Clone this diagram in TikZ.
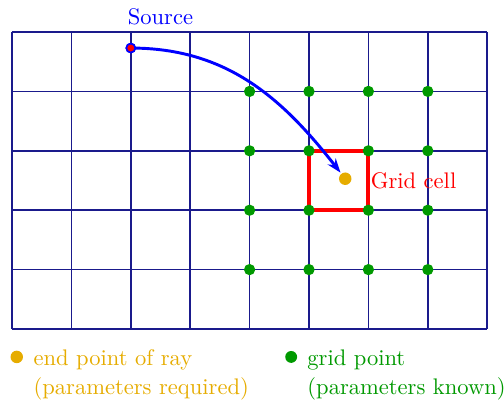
\documentclass[tikz,border=0pt]{standalone}
\usepackage{tikz}
\usetikzlibrary{arrows.meta,positioning}
\definecolor{GridNavy}{HTML}{1A1A8C}
\definecolor{PtGreen}{HTML}{009900}
\definecolor{PtGold}{HTML}{E6AC00}
\tikzset{
  txt/.style={font=\fontsize{10.8}{14}\selectfont},
  gridline/.style={draw=GridNavy,line width=0.7pt},
  cellbox/.style={draw=red,line width=2pt,minimum size=1cm,inner sep=0pt,outer sep=0pt},
  gridpt/.style={circle,fill=PtGreen,inner sep=0pt,minimum size=0.19cm},
  endpt/.style={circle,fill=PtGold,inner sep=0pt,minimum size=0.21cm},
  srcpt/.style={circle,fill=red,draw=blue,line width=0.8pt,inner sep=0pt,minimum size=0.15cm},
  rayarrow/.style={-{Stealth[length=2.4mm,width=1.7mm]},line width=1.4pt,draw=blue,shorten >=0.5pt}
}
\begin{document}
\begin{tikzpicture}[node distance=1mm and 1mm]
\useasboundingbox (-0.202,-1.246) rectangle (8.283,5.539);
\draw[gridline] (0,0) grid (8,5);
\node[cellbox] (cell) at (5.5,2.5) {};
\foreach \i in {4,...,7}
  \foreach \j in {1,...,4}
    \node[gridpt] (g\i\j) at (\i,\j) {};
\node[endpt] (endp) at (5.61,2.53) {};
\node[srcpt] (src) at (2,4.73) {};
\draw[rayarrow] (src.center) to[out=0,in=128] (endp);
\node[srcpt] at (src) {};
\node[txt,text=blue] (srclbl) at (2.5,5.25) {Source};
\node[txt,text=red,right=0pt of cell,inner sep=1pt] (celllbl) {Grid cell};
% legend
\node[endpt] (legend1) at (0.08,-0.47) {};
\node[txt,text=PtGold,align=left,anchor=north west] (legtxt1) at (0.24,-0.22) {end point of ray\\(parameters required)};
\node[gridpt,minimum size=0.2cm] (legend2) at (4.70,-0.47) {};
\node[txt,text=PtGreen,align=left,anchor=north west] (legtxt2) at (4.85,-0.22) {grid point\\(parameters known)};
\end{tikzpicture}
\end{document}
